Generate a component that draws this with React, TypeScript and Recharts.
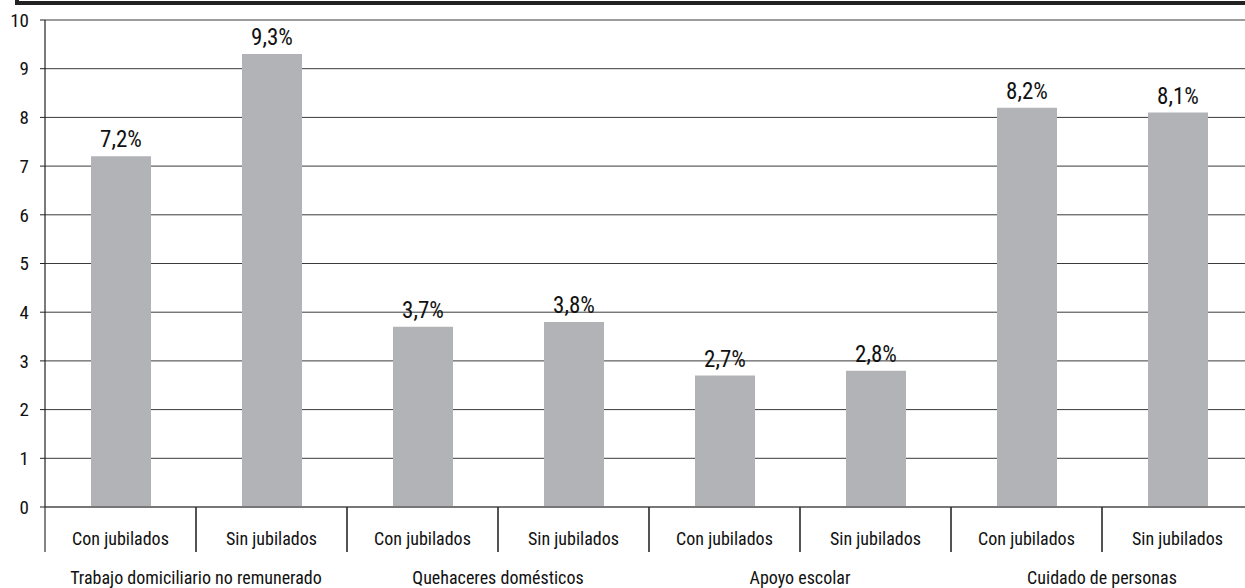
import React from "react";
import { BarChart, Bar, XAxis, YAxis, CartesianGrid, LabelList } from "recharts";

const categories = [
  "Con jubilados", "Sin jubilados",
  "Con jubilados", "Sin jubilados",
  "Con jubilados", "Sin jubilados",
  "Con jubilados", "Sin jubilados",
];
const groups = [
  "Trabajo domiciliario no remunerado",
  "Quehaceres domésticos",
  "Apoyo escolar",
  "Cuidado de personas",
];
const values = [7.2, 9.3, 3.7, 3.8, 2.7, 2.8, 8.2, 8.1];
const yTicks = [0, 1, 2, 3, 4, 5, 6, 7, 8, 9, 10];

const FONT = "'Liberation Sans Narrow', 'Roboto Condensed', 'DejaVu Sans Condensed', sans-serif";
const CHART_W = 1253;
const CHART_H = 588;
const Y_W = 45;
const BAND = (CHART_W - Y_W) / categories.length;

const data = values.map((v, i) => ({
  name: categories[i],
  group: groups[Math.floor(i / 2)],
  value: v,
}));

const fmt = (v: number) => `${v.toFixed(1).replace(".", ",")}%`;

function CategoryTick(props: any) {
  const { x, y, payload } = props;
  const left = x - BAND / 2;
  const right = x + BAND / 2;
  return (
    <g>
      <line x1={left} x2={left} y1={y} y2={y + 45} stroke="#333" strokeWidth={1.2} />
      <line x1={right} x2={right} y1={y} y2={y + 45} stroke="#333" strokeWidth={1.2} />
      <text x={x} y={y + 38} textAnchor="middle" fontFamily={FONT} fontSize={18} fill="#111">
        {payload.value}
      </text>
    </g>
  );
}

function GroupTick(props: any) {
  const { x, y, payload, index } = props;
  if (index % 2 !== 0) return <g />;
  return (
    <text x={x + BAND / 2} y={y + 32} textAnchor="middle" fontFamily={FONT} fontSize={18} fill="#111">
      {payload.value}
    </text>
  );
}

export default function App() {
  return (
    <div
      style={{
        position: "fixed",
        left: 0,
        top: 0,
        width: 1245,
        height: 588,
        overflow: "hidden",
        background: "#fff",
        fontFamily: FONT,
      }}
    >
      <div
        style={{
          position: "absolute",
          left: 15,
          top: -20,
          width: 1300,
          height: 17,
          border: "4px solid #222",
        }}
      />
      <BarChart
        width={CHART_W}
        height={CHART_H}
        data={data}
        margin={{ top: 20, right: 0, bottom: 0, left: 0 }}
        barSize={60}
      >
        <CartesianGrid vertical={false} stroke="#3a3a3a" strokeWidth={1} />
        <XAxis
          dataKey="name"
          xAxisId="cat"
          height={45}
          tickSize={0}
          tickMargin={0}
          tickLine={false}
          axisLine={{ stroke: "#777", strokeWidth: 2 }}
          tick={CategoryTick}
          interval={0}
        />
        <XAxis
          dataKey="group"
          xAxisId="grp"
          height={36}
          tickSize={0}
          tickMargin={0}
          tickLine={false}
          axisLine={false}
          tick={GroupTick}
          interval={0}
        />
        <YAxis
          width={Y_W}
          domain={[0, 10]}
          ticks={yTicks}
          interval={0}
          tickSize={5}
          tickMargin={11}
          axisLine={{ stroke: "#222", strokeWidth: 1.2 }}
          tickLine={{ stroke: "#222" }}
          tick={{ fill: "#111", fontSize: 19, fontFamily: FONT }}
        />
        <Bar dataKey="value" xAxisId="cat" fill="#b2b3b7" isAnimationActive={false}>
          <LabelList
            dataKey="value"
            position="top"
            offset={9}
            formatter={(v: any) => fmt(Number(v))}
            style={{ fill: "#111", fontSize: 23, fontFamily: FONT }}
          />
        </Bar>
      </BarChart>
    </div>
  );
}
